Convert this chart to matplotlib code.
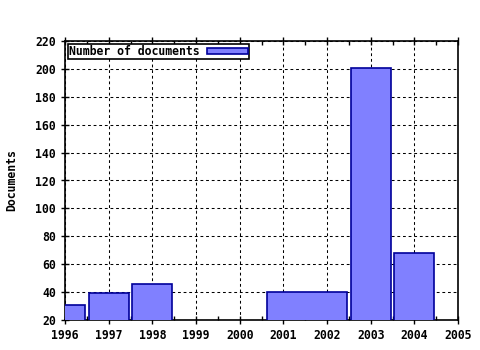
import matplotlib
matplotlib.use('Agg')
import matplotlib.pyplot as plt
from matplotlib.ticker import MultipleLocator

# data
years = [1996, 1997, 1998, 2001.54, 2003, 2004]
docs = [31, 39, 46, 40, 201, 68]
widths = [0.91, 0.91, 0.91, 1.82, 0.91, 0.91]
xticks = list(range(1996, 2006))
yticks = list(range(20, 221, 20))

font = {'family': 'DejaVu Sans Mono', 'weight': 'bold', 'size': 8.3}

fig = plt.figure(figsize=(4.8, 3.5), dpi=100)
ax = fig.add_axes([65 / 480, 30 / 350, 393 / 480, 279 / 350])

ax.bar(years, docs, width=widths, bottom=0, color='#8080ff',
       edgecolor='#00009a', linewidth=1.2, label='Number of documents', zorder=3)

ax.set_xlim(1996, 2005)
ax.set_ylim(20, 220)
ax.set_xticks(xticks)
ax.set_yticks(yticks)
ax.xaxis.set_minor_locator(MultipleLocator(0.5))
ax.set_xticklabels([str(y) for y in xticks], fontdict=font)
ax.set_yticklabels([str(y) for y in yticks], fontdict=font)
ax.tick_params(axis='x', which='major', direction='inout', length=6, top=True, width=1, color='black')
ax.tick_params(axis='x', which='minor', direction='in', length=3, top=True, width=1)
ax.tick_params(axis='y', which='major', direction='inout', length=6, width=1)
ax.grid(True, which='major', color='black', linestyle=(0, (2.7, 2.7)), linewidth=0.75, zorder=1)
ax.set_axisbelow(True)
for s in ax.spines.values():
    s.set_linewidth(1.2)

ax.set_ylabel('Documents', fontdict=font, labelpad=12)

leg = ax.legend(loc='upper left', prop={'family': 'DejaVu Sans Mono', 'weight': 'bold', 'size': 8.3},
                markerfirst=False, fancybox=False, framealpha=1, edgecolor='black',
                handlelength=3.6, handleheight=0.45, borderpad=0.05, borderaxespad=0.3,
                handletextpad=0.6)
leg.get_frame().set_linewidth(1.2)

plt.savefig('out.png', dpi=100)
